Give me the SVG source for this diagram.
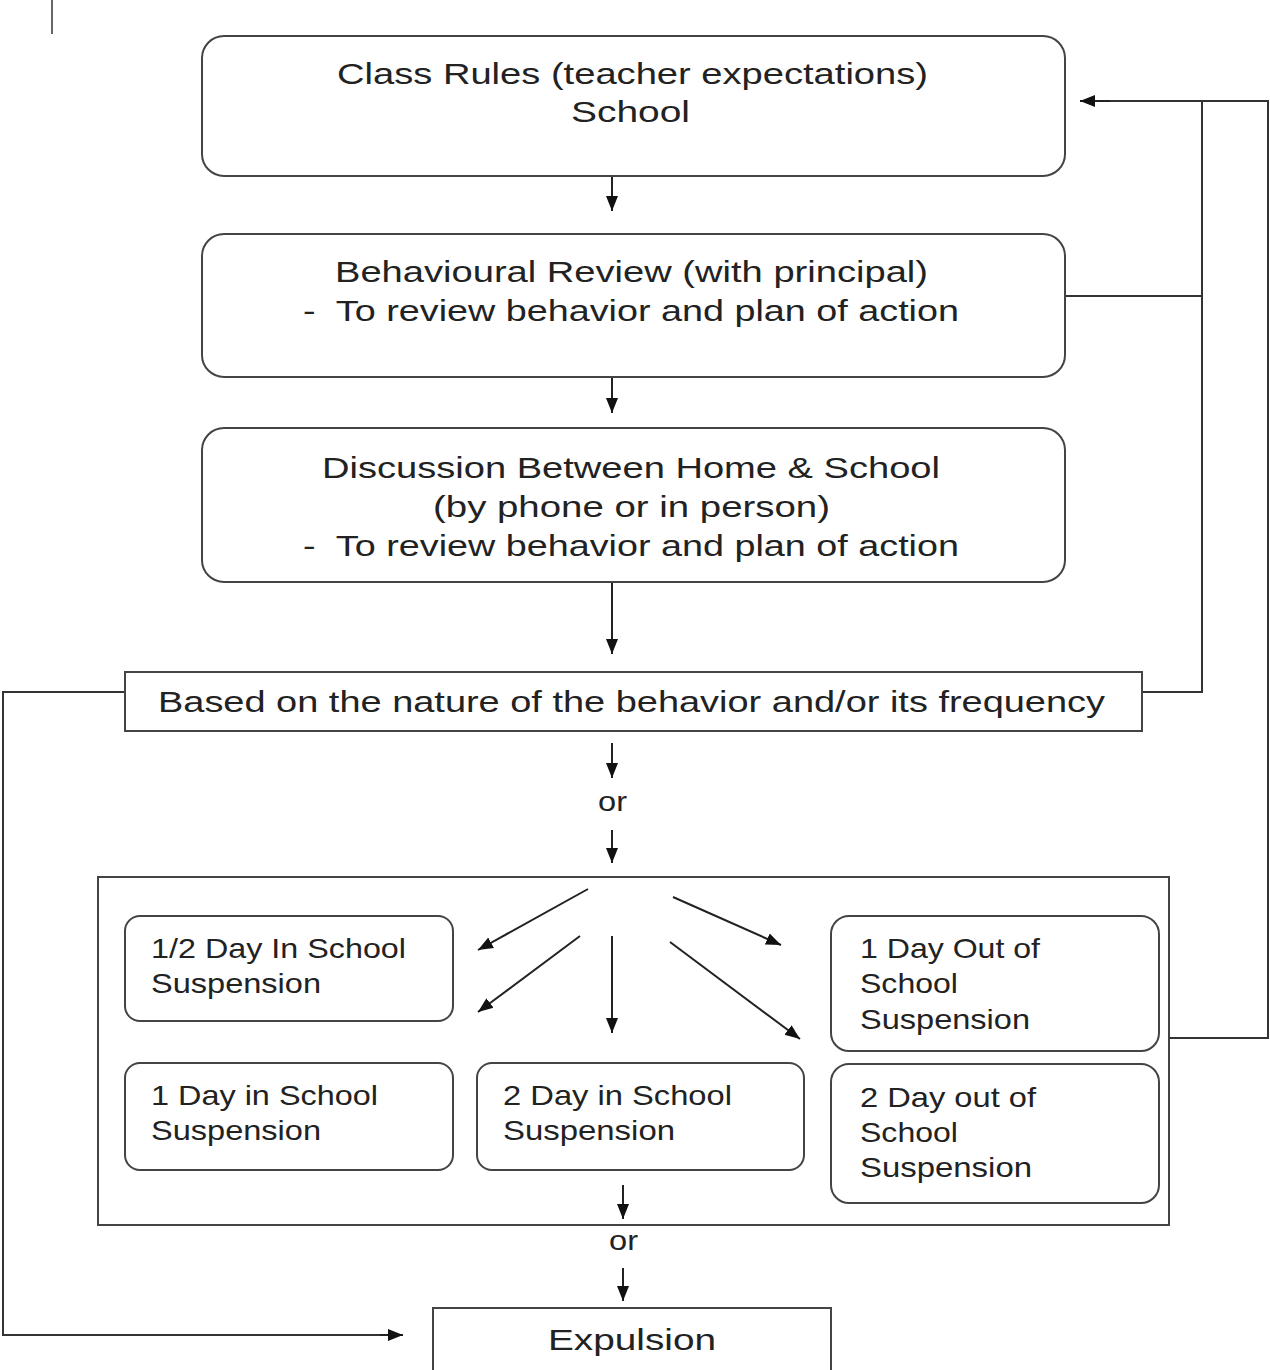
<svg xmlns="http://www.w3.org/2000/svg" width="1270" height="1370" viewBox="0 0 1270 1370">
<style>
  .box { fill: #fff; stroke: #444; stroke-width: 2; }
  .frame { fill: none; stroke: #444; stroke-width: 2; }
  .line { fill: none; stroke: #333; stroke-width: 2; }
  .arrow { fill: none; stroke: #222; stroke-width: 2; marker-end: url(#ah); }
  .t { font-family: "Liberation Sans", Arial, sans-serif; font-size: 30px; fill: #222; }
  .s { font-family: "Liberation Sans", Arial, sans-serif; font-size: 28px; fill: #222; }
</style>
<defs>
  <marker id="ah" markerUnits="userSpaceOnUse" markerWidth="16" markerHeight="14" refX="15" refY="7" orient="auto">
    <path d="M0,1 L15,7 L0,13 Z" fill="#111"/>
  </marker>
</defs>
<rect width="1270" height="1370" fill="#fff"/>
<line x1="52" y1="0" x2="52" y2="34" stroke="#666" stroke-width="2"/>

<g id="options-group">
  <rect class="frame" x="98" y="877" width="1071" height="348"/>
</g>

<g id="connectors">
  <line class="arrow" x1="612" y1="177" x2="612" y2="211"/>
  <line class="arrow" x1="612" y1="378" x2="612" y2="413"/>
  <line class="arrow" x1="612" y1="583" x2="612" y2="654"/>
  <line class="arrow" x1="612" y1="743" x2="612" y2="778"/>
  <line class="arrow" x1="612" y1="830" x2="612" y2="863"/>
  <line class="arrow" x1="588" y1="889" x2="478" y2="950"/>
  <line class="arrow" x1="580" y1="936" x2="478" y2="1012"/>
  <line class="arrow" x1="612" y1="936" x2="612" y2="1033"/>
  <line class="arrow" x1="673" y1="897" x2="781" y2="945"/>
  <line class="arrow" x1="670" y1="942" x2="800" y2="1039"/>
  <line class="arrow" x1="623" y1="1185" x2="623" y2="1219"/>
  <line class="arrow" x1="623" y1="1268" x2="623" y2="1301"/>
  <polyline class="line" points="125,692 3,692 3,1335 390,1335"/>
  <line class="arrow" x1="380" y1="1335" x2="403" y2="1335"/>
  <polyline class="line" points="1142,692 1202,692 1202,101"/>
  <line class="line" x1="1065" y1="296" x2="1202" y2="296"/>
  <polyline class="line" points="1169,1038 1268,1038 1268,101 1100,101"/>
  <line class="arrow" x1="1110" y1="101" x2="1080" y2="101"/>
</g>

<g id="class-rules">
  <rect class="box" x="202" y="36" width="863" height="140" rx="22"/>
  <text class="t" x="337" y="84" textLength="591" lengthAdjust="spacingAndGlyphs">Class Rules (teacher expectations)</text>
  <text class="t" x="571" y="122" textLength="119" lengthAdjust="spacingAndGlyphs">School</text>
</g>

<g id="behavioural-review">
  <rect class="box" x="202" y="234" width="863" height="143" rx="22"/>
  <text class="t" x="335" y="282" textLength="593" lengthAdjust="spacingAndGlyphs">Behavioural Review (with principal)</text>
  <text class="t" x="303" y="321" textLength="656" lengthAdjust="spacingAndGlyphs" xml:space="preserve">-  To review behavior and plan of action</text>
</g>

<g id="discussion">
  <rect class="box" x="202" y="428" width="863" height="154" rx="22"/>
  <text class="t" x="322" y="478" textLength="618" lengthAdjust="spacingAndGlyphs">Discussion Between Home &amp; School</text>
  <text class="t" x="433" y="517" textLength="397" lengthAdjust="spacingAndGlyphs">(by phone or in person)</text>
  <text class="t" x="303" y="556" textLength="656" lengthAdjust="spacingAndGlyphs" xml:space="preserve">-  To review behavior and plan of action</text>
</g>

<g id="based-on">
  <rect class="box" x="125" y="672" width="1017" height="59"/>
  <text class="t" x="158" y="712" textLength="947" lengthAdjust="spacingAndGlyphs">Based on the nature of the behavior and/or its frequency</text>
</g>

<g id="or-1">
  <text class="s" x="598" y="811" textLength="29" lengthAdjust="spacingAndGlyphs">or</text>
</g>

<g id="half-day-in">
  <rect class="box" x="125" y="916" width="328" height="105" rx="15"/>
  <text class="s" x="151" y="958" textLength="255" lengthAdjust="spacingAndGlyphs">1/2 Day In School</text>
  <text class="s" x="151" y="993" textLength="170" lengthAdjust="spacingAndGlyphs">Suspension</text>
</g>

<g id="one-day-in">
  <rect class="box" x="125" y="1063" width="328" height="107" rx="15"/>
  <text class="s" x="151" y="1105" textLength="227" lengthAdjust="spacingAndGlyphs">1 Day in School</text>
  <text class="s" x="151" y="1140" textLength="170" lengthAdjust="spacingAndGlyphs">Suspension</text>
</g>

<g id="two-day-in">
  <rect class="box" x="477" y="1063" width="327" height="107" rx="15"/>
  <text class="s" x="503" y="1105" textLength="229" lengthAdjust="spacingAndGlyphs">2 Day in School</text>
  <text class="s" x="503" y="1140" textLength="172" lengthAdjust="spacingAndGlyphs">Suspension</text>
</g>

<g id="one-day-out">
  <rect class="box" x="831" y="916" width="328" height="135" rx="18"/>
  <text class="s" x="860" y="958" textLength="180" lengthAdjust="spacingAndGlyphs">1 Day Out of</text>
  <text class="s" x="860" y="993" textLength="98" lengthAdjust="spacingAndGlyphs">School</text>
  <text class="s" x="860" y="1029" textLength="170" lengthAdjust="spacingAndGlyphs">Suspension</text>
</g>

<g id="two-day-out">
  <rect class="box" x="831" y="1064" width="328" height="139" rx="18"/>
  <text class="s" x="860" y="1107" textLength="176" lengthAdjust="spacingAndGlyphs">2 Day out of</text>
  <text class="s" x="860" y="1142" textLength="98" lengthAdjust="spacingAndGlyphs">School</text>
  <text class="s" x="860" y="1177" textLength="172" lengthAdjust="spacingAndGlyphs">Suspension</text>
</g>

<g id="or-2">
  <text class="s" x="609" y="1250" textLength="29" lengthAdjust="spacingAndGlyphs">or</text>
</g>

<g id="expulsion">
  <rect class="box" x="433" y="1308" width="398" height="70"/>
  <text class="t" x="548" y="1350" textLength="168" lengthAdjust="spacingAndGlyphs">Expulsion</text>
</g>
</svg>
